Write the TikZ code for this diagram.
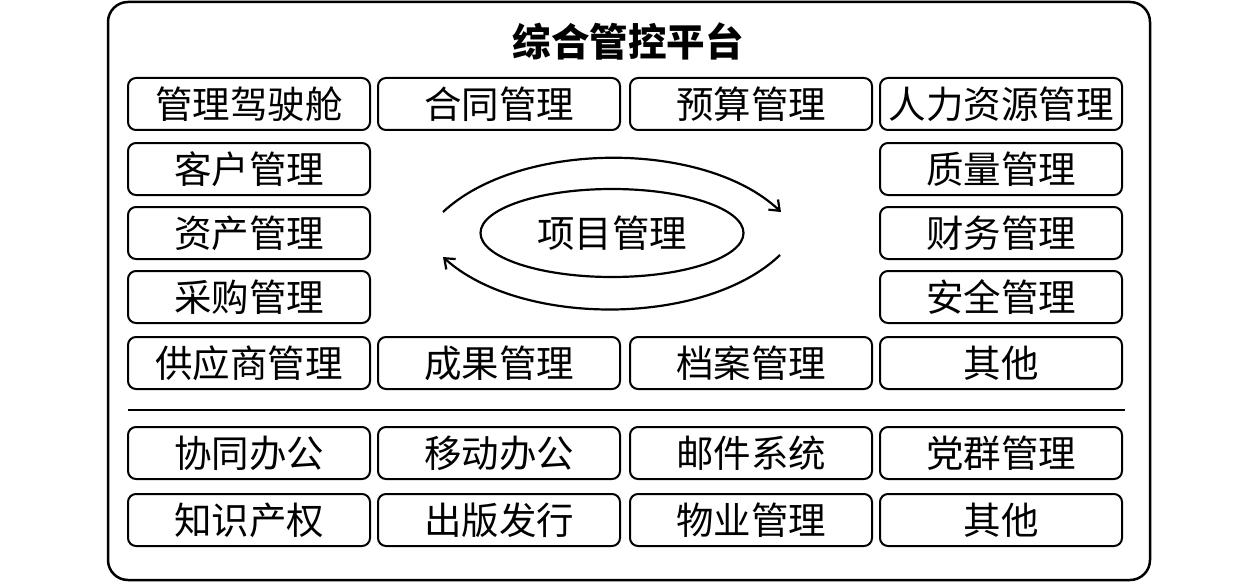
\documentclass[tikz,border=0pt]{standalone}
\usepackage{fontspec}
\newfontfamily\cjk{Noto Sans CJK SC}
\usetikzlibrary{arrows.meta,shapes.geometric}
\begin{document}
\begin{tikzpicture}[x=1pt,y=-1pt,
  box/.style={draw,line width=2pt,rounded corners=8pt,minimum width=242pt,minimum height=52pt,inner sep=0pt,font=\cjk\fontsize{37.5}{40}\selectfont},
  cyc/.style={line width=2.2pt,-{Straight Barb[length=9pt,width=14pt,line width=2.2pt]}}]
\useasboundingbox (0,0) rectangle (1260,583);
\draw[line width=2.5pt,rounded corners=20pt] (108,2) rectangle (1150,580);
\node[font=\cjk\bfseries\fontsize{38.5}{42}\selectfont] (title) at (628,41) {综合管控平台};
% columns centers: 249, 499, 751, 1001
\node[box] (a1) at (249,104) {管理驾驶舱};
\node[box] (a2) at (499,104) {合同管理};
\node[box] (a3) at (751,104) {预算管理};
\node[box] (a4) at (1001,104) {人力资源管理};
\node[box] (b1) at (249,169) {客户管理};
\node[box] (b4) at (1001,169) {质量管理};
\node[box] (c1) at (249,233) {资产管理};
\node[box] (c4) at (1001,233) {财务管理};
\node[box] (d1) at (249,297) {采购管理};
\node[box] (d4) at (1001,297) {安全管理};
\node[box] (e1) at (249,363) {供应商管理};
\node[box] (e2) at (499,363) {成果管理};
\node[box] (e3) at (751,363) {档案管理};
\node[box] (e4) at (1001,363) {其他};
\coordinate (sl) at (128,410);
\coordinate (sr) at (1125,410);
\draw[line width=2.5pt] (sl) -- (sr);
\node[box] (f1) at (249,453) {协同办公};
\node[box] (f2) at (499,453) {移动办公};
\node[box] (f3) at (751,453) {邮件系统};
\node[box] (f4) at (1001,453) {党群管理};
\node[box] (g1) at (249,520) {知识产权};
\node[box] (g2) at (499,520) {出版发行};
\node[box] (g3) at (751,520) {物业管理};
\node[box] (g4) at (1001,520) {其他};
\node[draw,line width=2.2pt,ellipse,minimum width=263pt,minimum height=88pt,inner sep=0pt,font=\cjk\fontsize{37.5}{40}\selectfont] (pm) at (612,233) {项目管理};
\coordinate (t1) at (443,212);
\coordinate (t2) at (781,212);
\coordinate (u1) at (780,255);
\coordinate (u2) at (443,257);
\draw[cyc] (t1) .. controls (520,140) and (705,140) .. (t2);
\draw[cyc] (u1) .. controls (705,327) and (520,327) .. (u2);
\end{tikzpicture}
\end{document}
